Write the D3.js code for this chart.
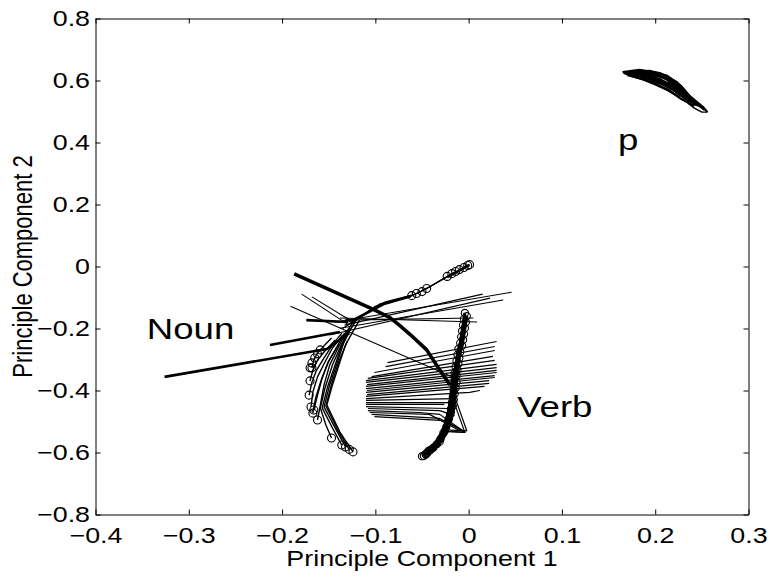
<!DOCTYPE html>
<html>
<head>
<meta charset="utf-8">
<script src="https://cdn.jsdelivr.net/npm/d3@7"></script>
<style>
body { margin: 0; background: #fff; }
text { font-family: "Liberation Sans", Arial, Helvetica, sans-serif; fill: #000; }
</style>
</head>
<body>
<div id="chart"></div>
<script>
// axes
var xTicks = [-0.4, -0.3, -0.2, -0.1, 0, 0.1, 0.2, 0.3];
var xTickLabels = ["\u22120.4", "\u22120.3", "\u22120.2", "\u22120.1", "0", "0.1", "0.2", "0.3"];
var yTicks = [-0.8, -0.6, -0.4, -0.2, 0, 0.2, 0.4, 0.6, 0.8];
var yTickLabels = ["\u22120.8", "\u22120.6", "\u22120.4", "\u22120.2", "0", "0.2", "0.4", "0.6", "0.8"];

// word class labels [x, y, text]
var classLabels = [[-0.345, -0.2, "Noun"], [0.052, -0.45, "Verb"], [0.16, 0.41, "p"]];

// noun trajectories, bottom circle -> hub
var nounPaths = [
  [[-0.124,-0.598],[-0.138,-0.534],[-0.152,-0.447],[-0.146,-0.382],[-0.138,-0.308],[-0.132,-0.253],[-0.125,-0.215],[-0.117,-0.173]],
  [[-0.132,-0.582],[-0.142,-0.527],[-0.155,-0.453],[-0.149,-0.382],[-0.140,-0.302],[-0.134,-0.247],[-0.127,-0.205],[-0.119,-0.166]],
  [[-0.136,-0.576],[-0.146,-0.521],[-0.157,-0.456],[-0.151,-0.386],[-0.142,-0.308],[-0.136,-0.253],[-0.127,-0.198]],
  [[-0.147,-0.553],[-0.153,-0.511],[-0.159,-0.456],[-0.154,-0.392],[-0.146,-0.318],[-0.138,-0.263],[-0.129,-0.205]],
  [[-0.162,-0.495],[-0.159,-0.447],[-0.155,-0.382],[-0.149,-0.318],[-0.140,-0.263],[-0.132,-0.215],[-0.122,-0.173]],
  [[-0.167,-0.473],[-0.164,-0.424],[-0.158,-0.366],[-0.151,-0.311],[-0.142,-0.263],[-0.133,-0.215]],
  [[-0.169,-0.453],[-0.167,-0.405],[-0.162,-0.356],[-0.154,-0.308],[-0.146,-0.263],[-0.135,-0.221]],
  [[-0.171,-0.415],[-0.168,-0.373],[-0.163,-0.334],[-0.155,-0.295],[-0.146,-0.253],[-0.136,-0.215]],
  [[-0.170,-0.369],[-0.167,-0.334],[-0.162,-0.302],[-0.153,-0.269],[-0.143,-0.237]],
  [[-0.168,-0.327],[-0.166,-0.302],[-0.162,-0.279],[-0.155,-0.256],[-0.147,-0.231]],
  [[-0.128,-0.590],[-0.140,-0.530],[-0.153,-0.450],[-0.147,-0.380],[-0.139,-0.305],[-0.130,-0.240]],
  [[-0.166,-0.463],[-0.162,-0.415],[-0.157,-0.360],[-0.150,-0.305],[-0.139,-0.250]]
];
// thin lines near the noun hub
var nounThin = [
  [[-0.191,-0.128],[-0.133,-0.205]],
  [[-0.179,-0.089],[-0.128,-0.189]],
  [[-0.168,-0.098],[-0.124,-0.179]],
  [[-0.143,-0.180],[0.046,-0.083]],
  [[-0.138,-0.199],[0.037,-0.108]],
  [[-0.133,-0.189],[0.015,-0.089]],
  [[-0.138,-0.166],[0.009,-0.179]],
  [[-0.133,-0.173],[0.005,-0.166]],
  [[-0.149,-0.221],[0.023,-0.102]],
  [[-0.133,-0.205],[-0.015,-0.360]],
  [[-0.135,-0.200],[-0.095,-0.120],[-0.061,-0.094],[-0.045,-0.071],[-0.023,-0.032],[0.001,0.006]],
  [[-0.130,-0.190],[-0.100,-0.128],[-0.065,-0.100],[-0.047,-0.075],[-0.020,-0.028],[-0.002,0.002]],
  [[-0.125,-0.180],[-0.090,-0.115],[-0.058,-0.090],[-0.040,-0.062],[-0.015,-0.018]]
];
// heavier strokes (overlapping bundles)
var nounThick = [
  [[-0.326,-0.356],[-0.152,-0.266],[-0.128,-0.215]],
  [[-0.213,-0.253],[-0.138,-0.211]],
  [[-0.174,-0.173],[-0.129,-0.179]],
  [[-0.125,-0.175],[-0.090,-0.120],[-0.062,-0.096]],
  [[-0.023,-0.034],[0.001,0.005]],
  [[-0.131,-0.168],[-0.126,-0.178]]
];
var crossCurve = [[-0.187,-0.024],[-0.101,-0.140],[-0.084,-0.166],[-0.074,-0.190],[-0.062,-0.221],[-0.045,-0.269],[-0.031,-0.334],[-0.020,-0.382]];
var nounMarks = [
  [-0.124,-0.598],[-0.132,-0.582],[-0.136,-0.576],[-0.147,-0.553],[-0.162,-0.495],[-0.167,-0.473],
  [-0.169,-0.453],[-0.171,-0.415],[-0.170,-0.369],[-0.168,-0.327],[-0.166,-0.463],[-0.128,-0.590],
  [-0.170,-0.327],[-0.168,-0.311],[-0.165,-0.295],[-0.162,-0.282],[-0.159,-0.269],
  [-0.061,-0.094],[-0.056,-0.087],[-0.050,-0.081],[-0.045,-0.071],[-0.023,-0.032],[-0.018,-0.023],
  [-0.014,-0.016],[-0.010,-0.010],[-0.005,-0.003],[-0.001,0.003],[0.001,0.006]
];

// verb trajectories
var verbSpine = [[-0.004,-0.150],[-0.005,-0.169],[-0.006,-0.189],[-0.007,-0.208],[-0.008,-0.227],[-0.009,-0.247],[-0.011,-0.266],[-0.012,-0.285],[-0.013,-0.305],[-0.014,-0.324],[-0.015,-0.344],[-0.015,-0.363],[-0.016,-0.382],[-0.016,-0.402],[-0.017,-0.421],[-0.018,-0.440],[-0.019,-0.460],[-0.020,-0.479],[-0.022,-0.498],[-0.024,-0.518],[-0.027,-0.537],[-0.030,-0.556],[-0.034,-0.573],[-0.038,-0.585],[-0.043,-0.595],[-0.046,-0.605],[-0.048,-0.611]];
var verbSpineB = [[-0.002,-0.160],[-0.003,-0.180],[-0.004,-0.199],[-0.005,-0.218],[-0.006,-0.237],[-0.007,-0.256],[-0.009,-0.276],[-0.010,-0.295],[-0.011,-0.314],[-0.012,-0.334],[-0.013,-0.353],[-0.013,-0.373],[-0.014,-0.392],[-0.015,-0.411],[-0.016,-0.430],[-0.017,-0.450],[-0.019,-0.470],[-0.021,-0.490],[-0.025,-0.528],[-0.031,-0.565],[-0.041,-0.592],[-0.045,-0.603]];
var verbBundle = [[-0.013,-0.330],[-0.015,-0.363],[-0.017,-0.421],[-0.020,-0.479],[-0.025,-0.530],[-0.034,-0.573],[-0.042,-0.595]];
var verbFan = [
  [[-0.087,-0.310],[0.030,-0.242]],
  [[-0.089,-0.323],[0.028,-0.258]],
  [[-0.101,-0.342],[0.028,-0.271]],
  [[-0.104,-0.355],[0.026,-0.290]],
  [[-0.108,-0.361],[0.028,-0.303]],
  [[-0.110,-0.368],[0.030,-0.316]],
  [[-0.110,-0.374],[0.030,-0.326]],
  [[-0.109,-0.381],[0.030,-0.335]],
  [[-0.110,-0.387],[0.030,-0.342]],
  [[-0.110,-0.394],[0.028,-0.352]],
  [[-0.109,-0.400],[0.028,-0.358]],
  [[-0.110,-0.406],[0.022,-0.368]],
  [[-0.109,-0.413],[0.022,-0.377]],
  [[-0.110,-0.419],[0.017,-0.387]],
  [[-0.110,-0.426],[0.001,-0.406],[0.012,-0.400]],
  [[-0.110,-0.432],[-0.015,-0.426]],
  [[-0.110,-0.439],[-0.020,-0.439]],
  [[-0.110,-0.445],[-0.026,-0.445]],
  [[-0.110,-0.452],[-0.023,-0.458]],
  [[-0.108,-0.458],[-0.031,-0.465],[-0.015,-0.481]],
  [[-0.108,-0.465],[-0.053,-0.471],[-0.031,-0.477],[-0.004,-0.535]],
  [[-0.106,-0.471],[-0.042,-0.477],[-0.010,-0.529]],
  [[-0.104,-0.477],[-0.031,-0.490],[-0.004,-0.535],[-0.023,-0.532]],
  [[-0.101,-0.484],[-0.026,-0.497],[-0.006,-0.529]],
  [[-0.018,-0.419],[-0.004,-0.535],[-0.024,-0.532]],
  [[-0.016,-0.410],[-0.002,-0.530],[-0.020,-0.528]]
];
var verbMarks = verbSpine.concat(verbSpineB, [[-0.046,-0.607],[-0.044,-0.600],[-0.050,-0.612]]);

// "p" trajectories
var pPaths = [
  [[0.165,0.627],[0.183,0.634],[0.205,0.624],[0.223,0.595],[0.237,0.550],[0.251,0.515],[0.256,0.498]],
  [[0.166,0.624],[0.186,0.627],[0.205,0.615],[0.221,0.589],[0.235,0.547],[0.248,0.518]],
  [[0.167,0.624],[0.187,0.621],[0.205,0.605],[0.220,0.579],[0.233,0.544],[0.244,0.521]],
  [[0.168,0.621],[0.189,0.611],[0.205,0.595],[0.218,0.573],[0.231,0.544]],
  [[0.170,0.618],[0.189,0.602],[0.203,0.586],[0.216,0.566],[0.228,0.540],[0.242,0.518]],
  [[0.171,0.618],[0.186,0.605],[0.199,0.589],[0.213,0.569],[0.226,0.547]],
  [[0.173,0.621],[0.192,0.621],[0.210,0.608],[0.226,0.576],[0.239,0.537],[0.253,0.505]],
  [[0.175,0.627],[0.194,0.631],[0.213,0.615],[0.228,0.582],[0.241,0.534]],
  [[0.169,0.622],[0.188,0.616],[0.205,0.600],[0.219,0.576],[0.232,0.546],[0.246,0.520]],
  [[0.172,0.620],[0.190,0.607],[0.206,0.590],[0.220,0.568],[0.233,0.540]],
  [[0.178,0.626],[0.197,0.625],[0.214,0.605],[0.227,0.575],[0.238,0.545],[0.250,0.512]],
  [[0.214,0.600],[0.222,0.580],[0.230,0.558],[0.238,0.535],[0.246,0.518]],
  [[0.211,0.592],[0.220,0.572],[0.229,0.550],[0.237,0.530]],
  [[0.216,0.602],[0.226,0.569],[0.234,0.547],[0.240,0.527]]
];
var pBundle = [[0.214,0.598],[0.222,0.580],[0.229,0.562],[0.235,0.545]];
var pCurl = [[0.235,0.527],[0.242,0.511],[0.250,0.498],[0.256,0.498]];

var W = 773, H = 580;
var x = d3.scaleLinear().domain([-0.4, 0.3]).range([95.5, 748.5]);
var y = d3.scaleLinear().domain([-0.8, 0.8]).range([514.5, 18.5]);
var stretch = 1.22;

var svg = d3.select('#chart').append('svg')
    .attr('width', W)
    .attr('height', H);
svg.append('rect').attr('width', W).attr('height', H).attr('fill', '#fff');

svg.append('clipPath').attr('id', 'clip')
  .append('rect')
    .attr('x', x.range()[0]).attr('y', y.range()[1])
    .attr('width', x.range()[1] - x.range()[0])
    .attr('height', y.range()[0] - y.range()[1]);

var plot = svg.append('g').attr('clip-path', 'url(#clip)');

var line = d3.line()
    .x(function(d) { return x(d[0]); })
    .y(function(d) { return y(d[1]); });

function drawPaths(list, w) {
  plot.append('g').selectAll('path').data(list).enter().append('path')
    .attr('d', line)
    .attr('fill', 'none')
    .attr('stroke', '#000')
    .attr('stroke-width', w)
    .attr('stroke-linejoin', 'round');
}

function drawMarks(list, r) {
  plot.append('g').selectAll('circle').data(list).enter().append('circle')
    .attr('cx', function(d) { return x(d[0]); })
    .attr('cy', function(d) { return y(d[1]); })
    .attr('r', r)
    .attr('fill', 'none')
    .attr('stroke', '#000')
    .attr('stroke-width', 1.1);
}

drawPaths(verbFan, 1.2);
drawPaths(nounThin, 1.1);
drawPaths(nounPaths, 1.4);
drawPaths(nounThick, 2.6);
drawPaths([crossCurve], 3.6);
drawPaths([verbBundle], 7);
drawPaths([verbSpine, verbSpineB], 3);
drawPaths(pPaths, 2.2);
drawPaths([pBundle], 7);
drawPaths([pCurl], 1.4);
drawMarks(nounMarks, 4);
drawMarks(verbMarks, 3.6);

// class labels
svg.append('g').selectAll('text').data(classLabels).enter().append('text')
    .attr('transform', function(d) { return 'translate(' + x(d[0]) + ',' + y(d[1]) + ') scale(' + stretch + ',1)'; })
    .attr('dy', '0.35em')
    .style('font-size', '30px')
    .text(function(d) { return d[2]; });

// axes, ticks pointing inwards on all four sides
svg.append('g').attr('transform', 'translate(0,' + y.range()[0] + ')')
  .call(d3.axisBottom(x).tickValues(xTicks).tickSize(-5).tickSizeOuter(0).tickPadding(12.5)
    .tickFormat(function(d, i) { return xTickLabels[i]; }));
svg.append('g').attr('transform', 'translate(' + x.range()[0] + ',0)')
  .call(d3.axisLeft(y).tickValues(yTicks).tickSize(-5).tickSizeOuter(0).tickPadding(4.5)
    .tickFormat(function(d, i) { return yTickLabels[i]; }));
svg.append('g').attr('transform', 'translate(0,' + y.range()[1] + ')')
  .call(d3.axisTop(x).tickValues(xTicks).tickSize(-5).tickSizeOuter(0).tickFormat(''));
svg.append('g').attr('transform', 'translate(' + x.range()[1] + ',0)')
  .call(d3.axisRight(y).tickValues(yTicks).tickSize(-5).tickSizeOuter(0).tickFormat(''));

svg.selectAll('.domain, .tick line').attr('stroke', '#000').attr('stroke-width', 1);
svg.selectAll('.tick text')
    .attr('font-family', null)
    .style('font-size', '22px')
    .attr('fill', '#000')
    .attr('transform', 'scale(' + stretch + ',1)');

svg.append('text')
    .attr('transform', 'translate(' + ((x.range()[0] + x.range()[1]) / 2) + ',566) scale(' + stretch + ',1)')
    .attr('text-anchor', 'middle')
    .style('font-size', '22px')
    .text('Principle Component 1');

svg.append('text')
    .attr('transform', 'translate(32,' + ((y.range()[0] + y.range()[1]) / 2) + ') scale(' + stretch + ',1) rotate(-90)')
    .attr('text-anchor', 'middle')
    .style('font-size', '22px')
    .text('Principle Component 2');
</script>
</body>
</html>
